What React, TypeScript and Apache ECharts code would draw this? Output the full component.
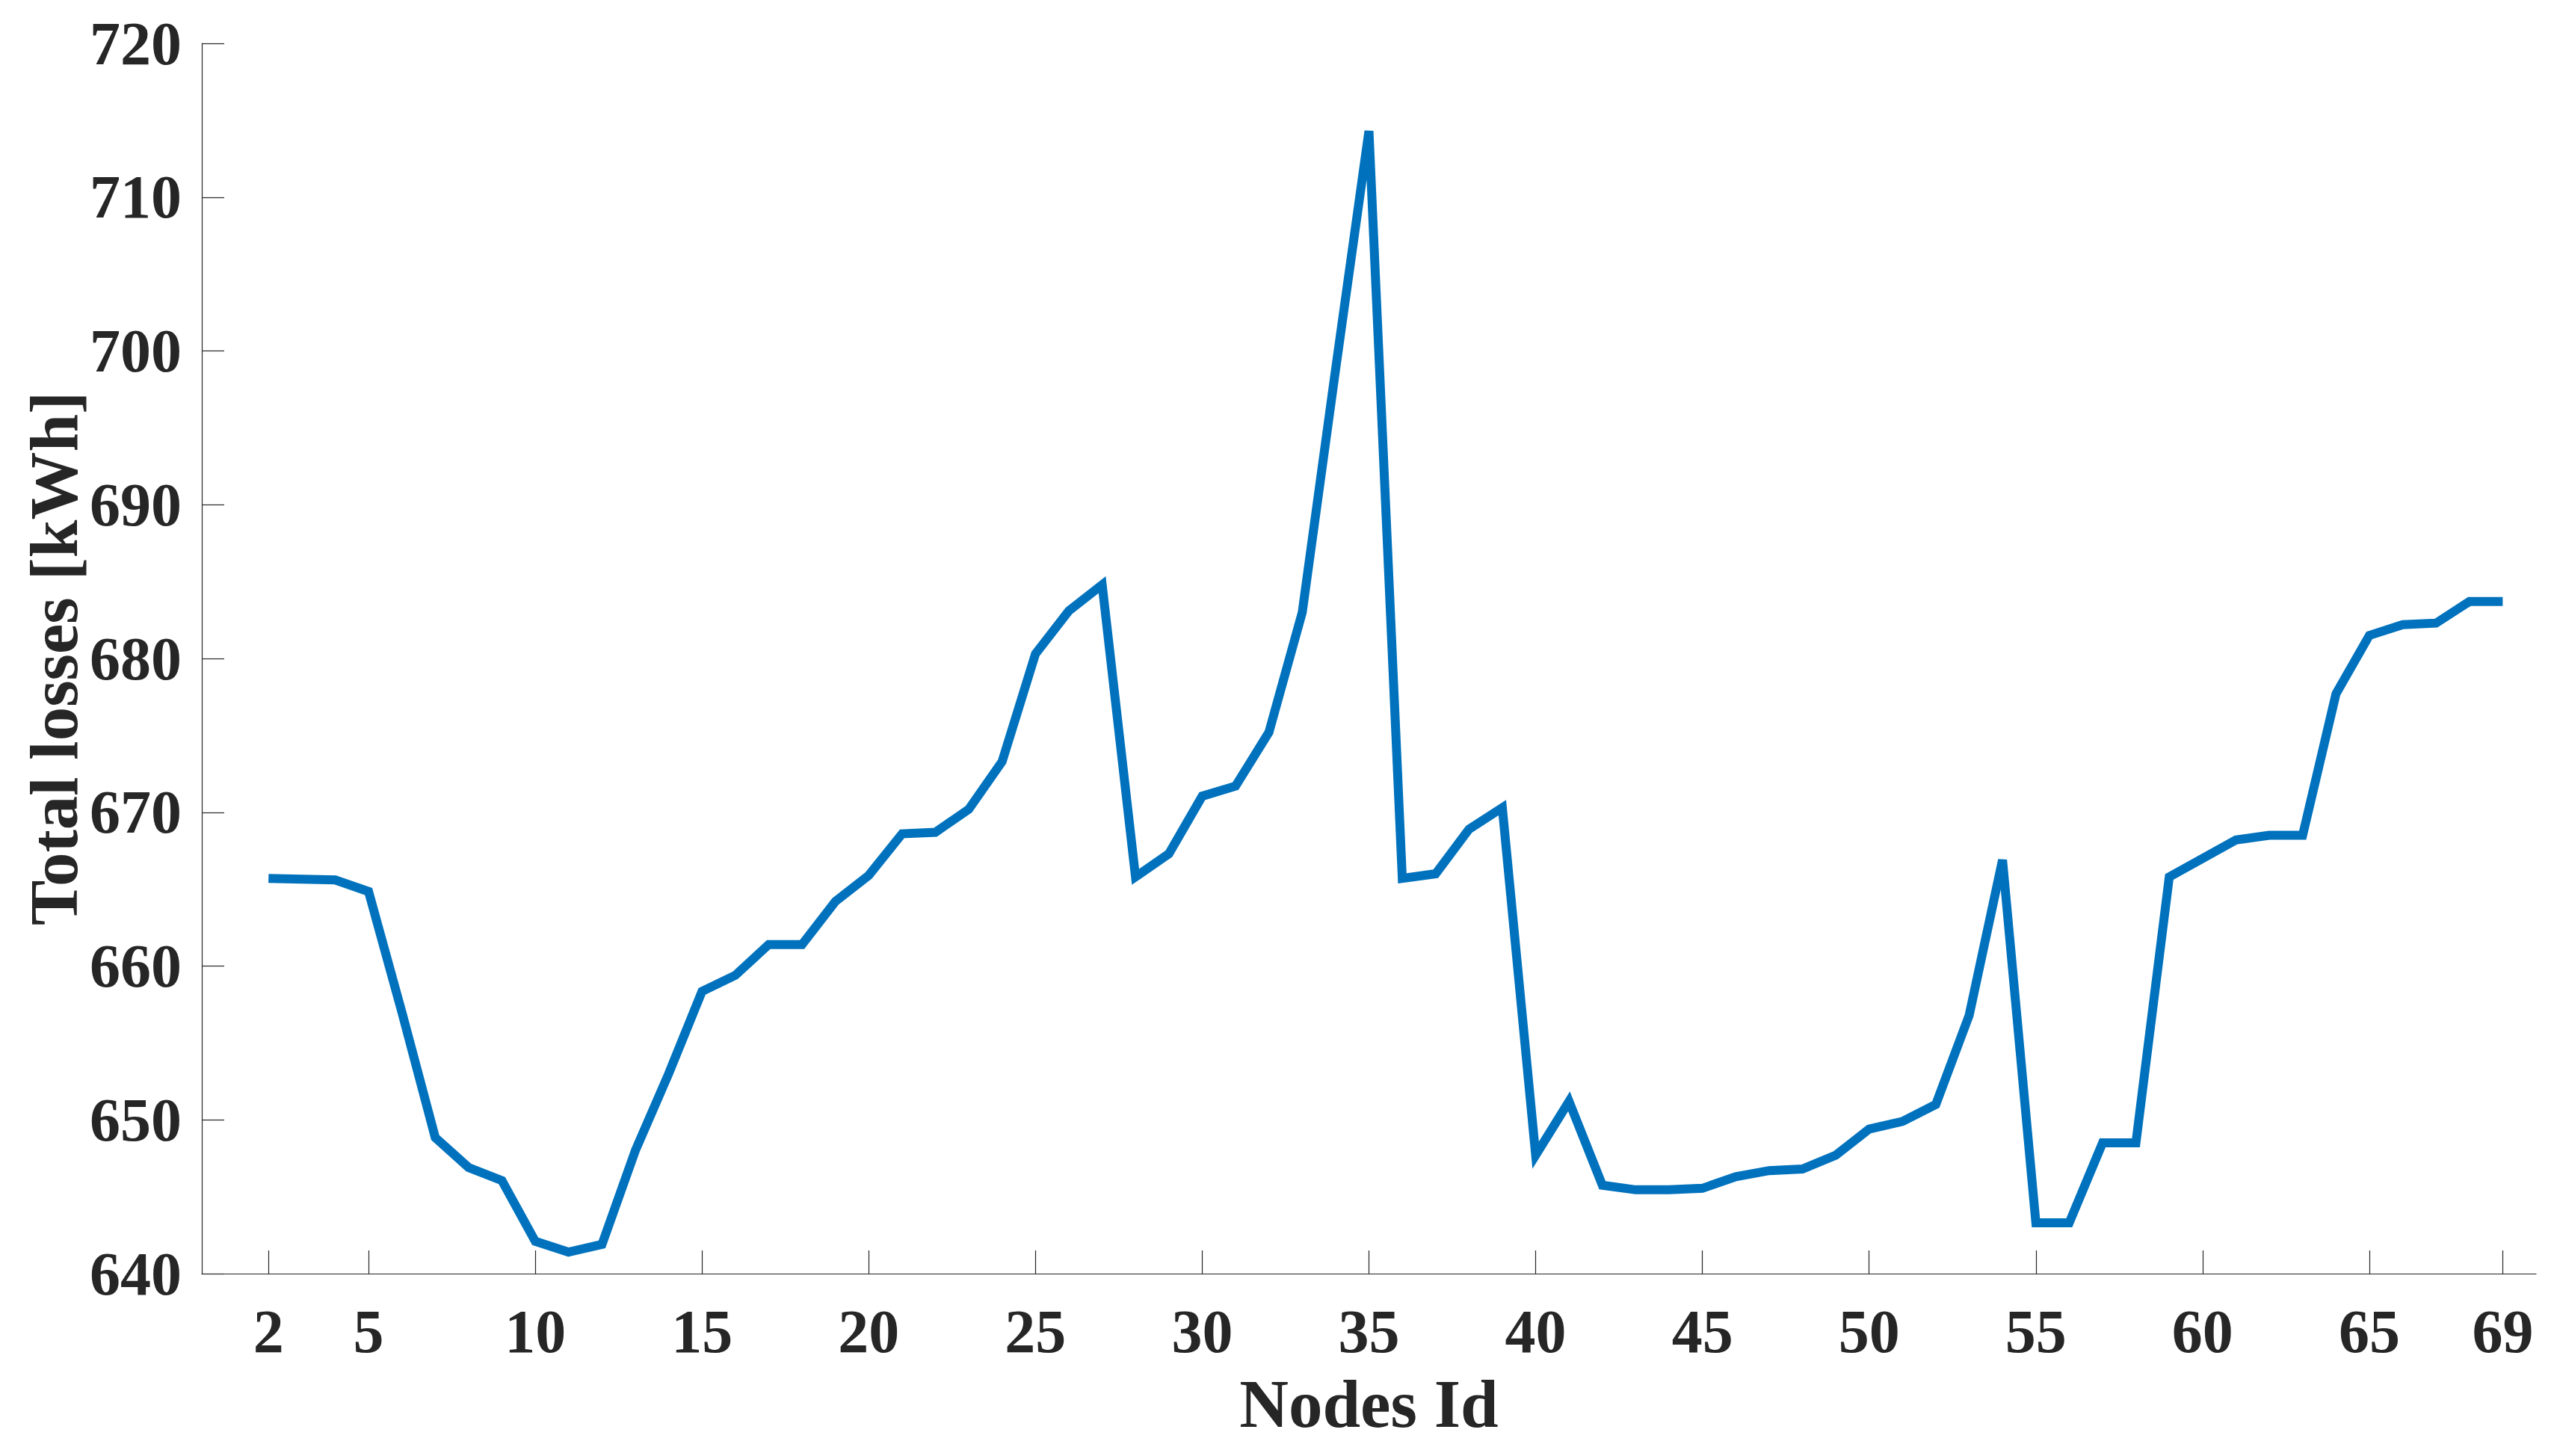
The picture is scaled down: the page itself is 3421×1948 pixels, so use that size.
import React, { useEffect, useRef } from "react";
import * as echarts from "echarts";

const nodeIds = [
  2, 3, 4, 5, 6, 7, 8, 9, 10, 11, 12, 13, 14, 15, 16, 17, 18, 19, 20, 21, 22, 23, 24, 25, 26, 27,
  28, 29, 30, 31, 32, 33, 34, 35, 36, 37, 38, 39, 40, 41, 42, 43, 44, 45, 46, 47, 48, 49, 50, 51,
  52, 53, 54, 55, 56, 57, 58, 59, 60, 61, 62, 63, 64, 65, 66, 67, 68, 69,
];

const totalLosses = [
  665.7, 665.65, 665.6, 664.85, 657.0, 648.85, 646.9, 646.05, 642.1, 641.4, 641.9, 648.0, 653.0,
  658.35, 659.4, 661.4, 661.4, 664.2, 665.9, 668.6, 668.7, 670.2, 673.3, 680.3, 683.1, 684.8,
  665.8, 667.3, 671.05, 671.7, 675.2, 683.0, 698.8, 714.3, 665.7, 666.0, 668.9, 670.3, 647.7,
  651.2, 645.75, 645.45, 645.45, 645.55, 646.3, 646.7, 646.8, 647.7, 649.4, 649.9, 651.0, 656.8,
  666.9, 643.3, 643.3, 648.5, 648.5, 665.8, 667.0, 668.2, 668.5, 668.5, 677.7, 681.5, 682.2,
  682.3, 683.7, 683.7,
];

const xTickValues = [2, 5, 10, 15, 20, 25, 30, 35, 40, 45, 50, 55, 60, 65, 69];
const yTickValues = [640, 650, 660, 670, 680, 690, 700, 710, 720];

const xTitle = "Nodes Id";
const yTitle = "Total losses [kWh]";

const W = 3421;
const H = 1948;
const GRID_LEFT = 270;
const GRID_RIGHT = 28;
const GRID_TOP = 58;
const GRID_BOTTOM = 244;

const FONT = "'Liberation Serif', 'Times New Roman', serif";
const INK = "#262626";

export default function App() {
  const ref = useRef<HTMLDivElement>(null);

  useEffect(() => {
    if (!ref.current) return;
    const chart = echarts.init(ref.current, undefined, { renderer: "svg", width: W, height: H });
    const data = nodeIds.map((n, i) => [n, totalLosses[i]]);
    const plotCenterX = GRID_LEFT + (W - GRID_LEFT - GRID_RIGHT) / 2;
    const plotCenterY = GRID_TOP + (H - GRID_TOP - GRID_BOTTOM) / 2;

    chart.setOption({
      animation: false,
      backgroundColor: "#ffffff",
      grid: { left: GRID_LEFT, right: GRID_RIGHT, top: GRID_TOP, bottom: GRID_BOTTOM, containLabel: false },
      xAxis: {
        type: "value",
        min: 0,
        max: 70,
        axisLine: { show: true, onZero: false, lineStyle: { color: INK, width: 1.2 } },
        axisTick: {
          show: true,
          inside: true,
          length: 31,
          customValues: xTickValues,
          lineStyle: { color: INK, width: 1.2 },
        },
        axisLabel: {
          show: true,
          customValues: xTickValues,
          margin: 36,
          fontFamily: FONT,
          fontWeight: "bold",
          fontSize: 82,
          color: INK,
        },
        splitLine: { show: false },
      },
      yAxis: {
        type: "value",
        min: 640,
        max: 720,
        interval: 10,
        axisLine: { show: true, onZero: false, lineStyle: { color: INK, width: 1.2 } },
        axisTick: {
          show: true,
          inside: true,
          length: 30,
          customValues: yTickValues,
          lineStyle: { color: INK, width: 1.2 },
        },
        axisLabel: {
          show: true,
          customValues: yTickValues,
          margin: 27,
          fontFamily: FONT,
          fontWeight: "bold",
          fontSize: 82,
          color: INK,
        },
        splitLine: { show: false },
      },
      series: [
        {
          type: "line",
          data,
          symbol: "none",
          showSymbol: false,
          lineStyle: { color: "#0072BD", width: 12, join: "miter", cap: "butt" },
          itemStyle: { color: "#0072BD" },
        },
      ],
      graphic: [
        {
          type: "text",
          x: plotCenterX,
          y: 1878,
          style: {
            text: xTitle,
            fontFamily: FONT,
            fontWeight: "bold",
            fontSize: 91,
            fill: INK,
            textAlign: "center",
            textVerticalAlign: "middle",
          },
        },
        {
          type: "text",
          x: 72,
          y: plotCenterY,
          rotation: Math.PI / 2,
          style: {
            text: yTitle,
            fontFamily: FONT,
            fontWeight: "bold",
            fontSize: 91,
            fill: INK,
            textAlign: "center",
            textVerticalAlign: "middle",
          },
        },
      ],
    });

    return () => {
      chart.dispose();
    };
  }, []);

  return (
    <div
      ref={ref}
      style={{ position: "fixed", left: 0, top: 0, width: W, height: H, background: "#ffffff" }}
    />
  );
}
